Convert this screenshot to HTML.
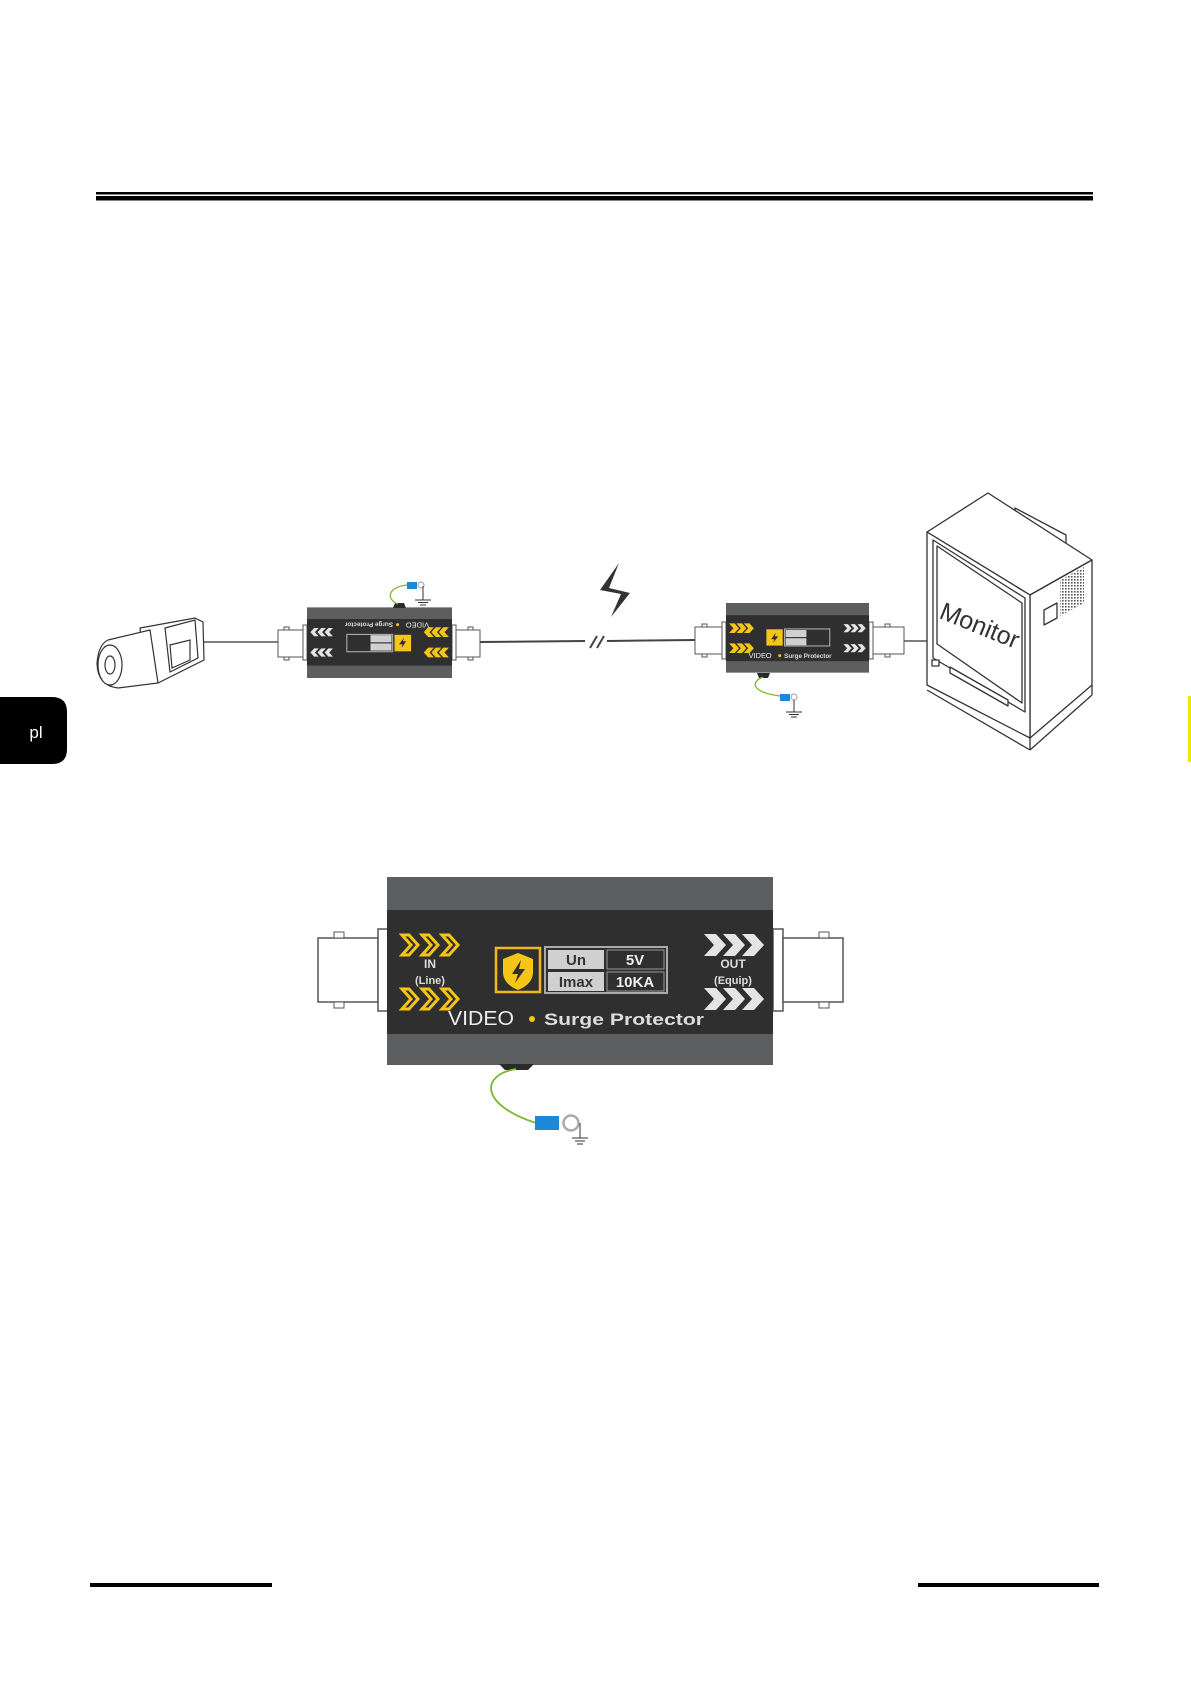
<!DOCTYPE html>
<html><head><meta charset="utf-8"><style>
html,body{margin:0;padding:0;background:#fff}
svg{display:block}
text{font-family:"Liberation Sans",sans-serif}
</style></head><body>
<svg width="1191" height="1684" viewBox="0 0 1191 1684" xmlns="http://www.w3.org/2000/svg">
<defs>
<pattern id="vent" width="3" height="3" patternUnits="userSpaceOnUse"><rect width="1.6" height="1.6" fill="#555"/></pattern>
</defs>
<rect x="96" y="192" width="997" height="2.5" fill="#000"/>
<rect x="96" y="196" width="997" height="4.5" fill="#000"/>
<rect x="90" y="1583" width="182" height="4" fill="#000"/>
<rect x="918" y="1583" width="181" height="4" fill="#000"/>
<path d="M0,697 H52 Q67,697 67,712 V749 Q67,764 52,764 H0 Z" fill="#000"/>
<text x="36" y="738" font-size="17" fill="#fff" text-anchor="middle">pl</text>
<rect x="1188" y="696" width="3" height="66" fill="#f2e600"/>

<line x1="203" y1="642" x2="278" y2="642" stroke="#555" stroke-width="1.5"/>
<line x1="480" y1="642" x2="585" y2="641" stroke="#444" stroke-width="2"/>
<line x1="607" y1="641" x2="695" y2="640" stroke="#444" stroke-width="2"/>
<line x1="590" y1="648" x2="597" y2="636" stroke="#444" stroke-width="2"/>
<line x1="597" y1="648" x2="604" y2="636" stroke="#444" stroke-width="2"/>
<line x1="904" y1="641" x2="927" y2="641" stroke="#555" stroke-width="1.5"/>
<polygon points="619,563 600,590 621,594 611,617 630,593 609,588" fill="#333"/>

<g fill="#fff" stroke="#333" stroke-width="1.2">
<polygon points="140,628 195,618 203,622 204,660 158,683 145,680"/>
<polygon points="165,628 195,620 198,658 170,672"/>
<polygon points="170,645 190,640 190,660 172,668" fill="#fff"/>
<path d="M108,640 L150,630 L158,683 L118,688 Q98,686 97,664 Q98,645 108,640 Z"/>
<ellipse cx="110" cy="665" rx="12" ry="20"/>
<ellipse cx="110" cy="665" rx="5" ry="9"/>
</g>

<g fill="#fff" stroke="#555" stroke-width="1">
<rect x="278" y="630" width="25" height="27"/><rect x="303" y="625" width="4" height="35"/>
<rect x="284" y="627" width="5" height="3"/><rect x="284" y="657" width="5" height="3"/>
<rect x="452" y="625" width="4" height="35"/><rect x="456" y="630" width="24" height="27"/>
<rect x="468" y="627" width="5" height="3"/><rect x="468" y="657" width="5" height="3"/>
<rect x="695" y="627" width="27" height="27"/><rect x="722" y="622" width="4" height="37"/>
<rect x="702" y="624" width="5" height="3"/><rect x="702" y="654" width="5" height="3"/>
<rect x="869" y="622" width="4" height="37"/><rect x="873" y="627" width="31" height="27"/>
<rect x="885" y="624" width="5" height="3"/><rect x="885" y="654" width="5" height="3"/>
<rect x="318" y="938" width="60" height="64" stroke-width="1.5"/><rect x="378" y="929" width="10" height="82" stroke-width="1.5"/>
<rect x="334" y="932" width="10" height="6"/><rect x="334" y="1002" width="10" height="6"/>
<rect x="773" y="929" width="10" height="82" stroke-width="1.5"/><rect x="783" y="938" width="60" height="64" stroke-width="1.5"/>
<rect x="819" y="932" width="10" height="6"/><rect x="819" y="1002" width="10" height="6"/>
</g>

<g transform="translate(387,877)">
<rect x="0" y="0" width="386" height="188" fill="#5d5e60"/>
<rect x="0" y="33" width="386" height="124" fill="#2f2f2f"/>
<g fill="none" stroke="#f5c518" stroke-width="3" stroke-linejoin="miter">
<path d="M15,58 L22,58 L31,68 L22,78 L15,78 L24,68 Z"/><path d="M35,58 L42,58 L51,68 L42,78 L35,78 L44,68 Z"/><path d="M55,58 L62,58 L71,68 L62,78 L55,78 L64,68 Z"/>
<path d="M15,112 L22,112 L31,122 L22,132 L15,132 L24,122 Z"/><path d="M35,112 L42,112 L51,122 L42,132 L35,132 L44,122 Z"/><path d="M55,112 L62,112 L71,122 L62,132 L55,132 L64,122 Z"/>
</g>
<text x="43" y="91" font-size="12" font-weight="bold" fill="#ddd" text-anchor="middle">IN</text>
<text x="43" y="107" font-size="11" font-weight="bold" fill="#ddd" text-anchor="middle">(Line)</text>
<g fill="#e4e4e4">
<path d="M317,57 L329,57 L339,68 L329,79 L317,79 L327,68 Z"/><path d="M336,57 L348,57 L358,68 L348,79 L336,79 L346,68 Z"/><path d="M355,57 L367,57 L377,68 L367,79 L355,79 L365,68 Z"/>
<path d="M317,111 L329,111 L339,122 L329,133 L317,133 L327,122 Z"/><path d="M336,111 L348,111 L358,122 L348,133 L336,133 L346,122 Z"/><path d="M355,111 L367,111 L377,122 L367,133 L355,133 L365,122 Z"/>
</g>
<text x="346" y="91" font-size="12" font-weight="bold" fill="#ddd" text-anchor="middle">OUT</text>
<text x="346" y="107" font-size="11" font-weight="bold" fill="#ddd" text-anchor="middle">(Equip)</text>
<rect x="109" y="71" width="44" height="44" fill="none" stroke="#f0b81c" stroke-width="2.5"/>
<path d="M131,76 L146,82 L146,95 C146,104 139,110 131,113 C123,110 116,104 116,95 L116,82 Z" fill="#f5c518"/>
<path d="M134,83 L125,97 L131,97 L128,106 L138,92 L132,92 Z" fill="#2f2f2f"/>
<rect x="158" y="70" width="122" height="46" fill="none" stroke="#aaa" stroke-width="2"/>
<rect x="161" y="73" width="56" height="19" fill="#d0d0d0"/>
<rect x="161" y="95" width="56" height="19" fill="#d0d0d0"/>
<rect x="220" y="73" width="57" height="19" fill="none" stroke="#999"/>
<rect x="220" y="95" width="57" height="19" fill="none" stroke="#999"/>
<text x="189" y="88" font-size="15" font-weight="bold" fill="#333" text-anchor="middle">Un</text>
<text x="189" y="110" font-size="15" font-weight="bold" fill="#333" text-anchor="middle">Imax</text>
<text x="248" y="88" font-size="15" font-weight="bold" fill="#eee" text-anchor="middle">5V</text>
<text x="248" y="110" font-size="15" font-weight="bold" fill="#eee" text-anchor="middle">10KA</text>
<text x="61" y="148" font-size="20" fill="#eee" textLength="66" lengthAdjust="spacingAndGlyphs">VIDEO</text>
<circle cx="145" cy="142" r="3" fill="#f5c518"/>
<text x="157" y="148" font-size="17" font-weight="bold" fill="#ddd" textLength="160" lengthAdjust="spacingAndGlyphs">Surge Protector</text>
</g>
<g transform="translate(452,678) rotate(180) scale(0.3756)">
<rect x="0" y="0" width="386" height="188" fill="#5d5e60"/>
<rect x="0" y="33" width="386" height="124" fill="#2f2f2f"/>
<g fill="none" stroke="#f5c518" stroke-width="6">
<path d="M15,58 L22,58 L31,68 L22,78 L15,78 L24,68 Z"/><path d="M35,58 L42,58 L51,68 L42,78 L35,78 L44,68 Z"/><path d="M55,58 L62,58 L71,68 L62,78 L55,78 L64,68 Z"/>
<path d="M15,112 L22,112 L31,122 L22,132 L15,132 L24,122 Z"/><path d="M35,112 L42,112 L51,122 L42,132 L35,132 L44,122 Z"/><path d="M55,112 L62,112 L71,122 L62,132 L55,132 L64,122 Z"/>
</g>
<g fill="#e4e4e4">
<path d="M317,57 L329,57 L339,68 L329,79 L317,79 L327,68 Z"/><path d="M336,57 L348,57 L358,68 L348,79 L336,79 L346,68 Z"/><path d="M355,57 L367,57 L377,68 L367,79 L355,79 L365,68 Z"/>
<path d="M317,111 L329,111 L339,122 L329,133 L317,133 L327,122 Z"/><path d="M336,111 L348,111 L358,122 L348,133 L336,133 L346,122 Z"/><path d="M355,111 L367,111 L377,122 L367,133 L355,133 L365,122 Z"/>
</g>
<rect x="109" y="71" width="44" height="44" fill="#f5c518"/>
<path d="M134,80 L122,98 L131,98 L127,108 L141,90 L132,90 Z" fill="#2f2f2f"/>
<rect x="158" y="70" width="122" height="46" fill="none" stroke="#aaa" stroke-width="3"/>
<rect x="161" y="73" width="56" height="19" fill="#d0d0d0"/><rect x="161" y="95" width="56" height="19" fill="#d0d0d0"/>
<text x="61" y="148" font-size="20" fill="#eee">VIDEO</text>
<circle cx="145" cy="142" r="4" fill="#f5c518"/>
<text x="157" y="148" font-size="17" font-weight="bold" fill="#ddd">Surge Protector</text>
</g>
<g transform="translate(726,603) scale(0.3705)">
<rect x="0" y="0" width="386" height="188" fill="#5d5e60"/>
<rect x="0" y="33" width="386" height="124" fill="#2f2f2f"/>
<g fill="none" stroke="#f5c518" stroke-width="6">
<path d="M15,58 L22,58 L31,68 L22,78 L15,78 L24,68 Z"/><path d="M35,58 L42,58 L51,68 L42,78 L35,78 L44,68 Z"/><path d="M55,58 L62,58 L71,68 L62,78 L55,78 L64,68 Z"/>
<path d="M15,112 L22,112 L31,122 L22,132 L15,132 L24,122 Z"/><path d="M35,112 L42,112 L51,122 L42,132 L35,132 L44,122 Z"/><path d="M55,112 L62,112 L71,122 L62,132 L55,132 L64,122 Z"/>
</g>
<g fill="#e4e4e4">
<path d="M317,57 L329,57 L339,68 L329,79 L317,79 L327,68 Z"/><path d="M336,57 L348,57 L358,68 L348,79 L336,79 L346,68 Z"/><path d="M355,57 L367,57 L377,68 L367,79 L355,79 L365,68 Z"/>
<path d="M317,111 L329,111 L339,122 L329,133 L317,133 L327,122 Z"/><path d="M336,111 L348,111 L358,122 L348,133 L336,133 L346,122 Z"/><path d="M355,111 L367,111 L377,122 L367,133 L355,133 L365,122 Z"/>
</g>
<rect x="109" y="71" width="44" height="44" fill="#f5c518"/>
<path d="M134,80 L122,98 L131,98 L127,108 L141,90 L132,90 Z" fill="#2f2f2f"/>
<rect x="158" y="70" width="122" height="46" fill="none" stroke="#aaa" stroke-width="3"/>
<rect x="161" y="73" width="56" height="19" fill="#d0d0d0"/><rect x="161" y="95" width="56" height="19" fill="#d0d0d0"/>
<text x="61" y="148" font-size="20" fill="#eee">VIDEO</text>
<circle cx="145" cy="142" r="4" fill="#f5c518"/>
<text x="157" y="148" font-size="17" font-weight="bold" fill="#ddd">Surge Protector</text>
</g>

<g>
<polygon points="499,1064 534,1064 528,1070 505,1070" fill="#2a2a2a"/>
<path d="M516,1069 C480,1075 480,1105 536,1123" fill="none" stroke="#7ab82e" stroke-width="1.8"/>
<rect x="535" y="1116" width="24" height="14" fill="#1e88d8"/>
<circle cx="571" cy="1123" r="7.5" fill="#fff" stroke="#aaa" stroke-width="2.5"/>
<line x1="580" y1="1123" x2="580" y2="1138" stroke="#333"/>
<line x1="572" y1="1138" x2="588" y2="1138" stroke="#333"/>
<line x1="575" y1="1141" x2="585" y2="1141" stroke="#333"/>
<line x1="577" y1="1144" x2="583" y2="1144" stroke="#333"/>
<polygon points="393,608 406,608 404,603 395,603" fill="#2a2a2a"/>
<path d="M398,604 C384,598 390,586 408,585" fill="none" stroke="#7ab82e" stroke-width="1.3"/>
<rect x="407" y="582" width="10" height="7" fill="#1e88d8"/>
<circle cx="421" cy="585" r="3" fill="#fff" stroke="#aaa" stroke-width="1.2"/>
<line x1="423" y1="586" x2="423" y2="600" stroke="#333"/>
<line x1="415" y1="600" x2="431" y2="600" stroke="#333"/>
<line x1="418" y1="602.5" x2="428" y2="602.5" stroke="#333"/>
<line x1="420" y1="605" x2="426" y2="605" stroke="#333"/>
<polygon points="757,673 770,673 768,678 759,678" fill="#2a2a2a"/>
<path d="M763,677 C748,683 755,693 780,696" fill="none" stroke="#7ab82e" stroke-width="1.3"/>
<rect x="780" y="694" width="10" height="7" fill="#1e88d8"/>
<circle cx="794" cy="697" r="3" fill="#fff" stroke="#aaa" stroke-width="1.2"/>
<line x1="794" y1="700" x2="794" y2="712" stroke="#333"/>
<line x1="786" y1="712" x2="802" y2="712" stroke="#333"/>
<line x1="789" y1="714.5" x2="799" y2="714.5" stroke="#333"/>
<line x1="791" y1="717" x2="797" y2="717" stroke="#333"/>
</g>

<g fill="#fff" stroke="#333" stroke-width="1.3" stroke-linejoin="round">
<polygon points="1015,508 1066,535 1066,545 1015,518"/>
<polygon points="927,532 988,493 1092,560 1030,595"/>
<polygon points="1030,595 1092,560 1092,685 1030,738"/>
<polygon points="927,532 1030,595 1030,738 927,685"/>
<polygon points="933,540 1025,598 1025,712 933,658"/>
<polygon points="937,546 1022,603 1022,703 937,644"/>
<line x1="927" y1="690" x2="1030" y2="750" />
<polygon points="950,667 1008,700 1008,706 950,673"/>
<rect x="932" y="660" width="7" height="6"/>
<polygon points="1044,610 1057,603 1057,618 1044,625"/>
</g>
<polygon points="1060,580 1084,567 1084,603 1060,616" fill="url(#vent)"/>
<line x1="1030" y1="738" x2="1030" y2="750" stroke="#333" stroke-width="1.3"/>
<line x1="1092" y1="685" x2="1092" y2="695" stroke="#333" stroke-width="1.3"/>
<line x1="1030" y1="750" x2="1092" y2="695" stroke="#333" stroke-width="1.3"/>
<text x="980" y="634" font-size="25" fill="#333" text-anchor="middle" transform="rotate(22 980 625)">Monitor</text>
</svg>
</body></html>
